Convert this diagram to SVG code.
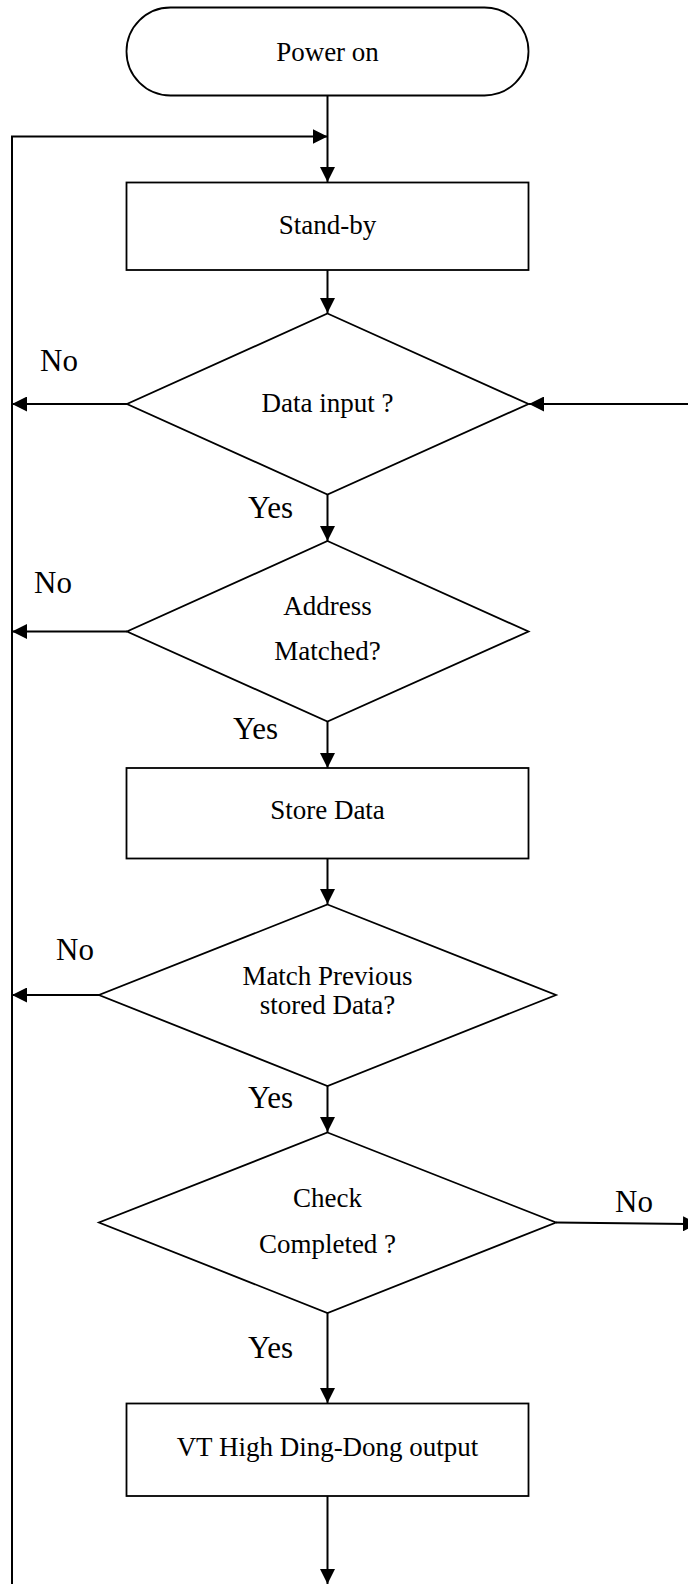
<svg xmlns="http://www.w3.org/2000/svg" width="688" height="1584" viewBox="0 0 688 1584">
<defs>
<marker id="arr" markerUnits="userSpaceOnUse" markerWidth="15" markerHeight="15" refX="15" refY="7.5" orient="auto" viewBox="0 0 15 15">
<path d="M0,0 L15,7.5 L0,15 z" fill="#000"/>
</marker>
<style>
.shape{fill:#fff;stroke:#000;stroke-width:1.8}
.conn{fill:none;stroke:#000;stroke-width:2;marker-end:url(#arr)}
.lbl{font-family:"Liberation Serif","Times New Roman",serif;font-size:27px;text-anchor:middle;fill:#000}
.yn{font-family:"Liberation Serif","Times New Roman",serif;font-size:31px;fill:#000}
</style>
</defs>
<rect width="688" height="1584" fill="#fff"/>
<g id="connectors">
<line class="conn" x1="327.5" y1="96" x2="327.5" y2="182"/>
<polyline class="conn" points="12,1584 12,136.5 327.5,136.5"/>
<line class="conn" x1="327.5" y1="270" x2="327.5" y2="313"/>
<line class="conn" x1="127" y1="404" x2="12" y2="404"/>
<line class="conn" x1="688" y1="404" x2="529" y2="404"/>
<line class="conn" x1="327.5" y1="494" x2="327.5" y2="541"/>
<line class="conn" x1="127" y1="631.5" x2="12" y2="631.5"/>
<line class="conn" x1="327.5" y1="721.5" x2="327.5" y2="768"/>
<line class="conn" x1="327.5" y1="859" x2="327.5" y2="904"/>
<line class="conn" x1="99" y1="995" x2="12" y2="995"/>
<line class="conn" x1="327.5" y1="1086" x2="327.5" y2="1132"/>
<line class="conn" x1="556" y1="1222.5" x2="698" y2="1224"/>
<line class="conn" x1="327.5" y1="1313" x2="327.5" y2="1403"/>
<line class="conn" x1="327.5" y1="1496" x2="327.5" y2="1584"/>
</g>
<g id="power-on">
<rect class="shape" x="126.5" y="7.5" width="402" height="88" rx="44" ry="44"/>
<text class="lbl" x="327.5" y="61">Power on</text>
</g>
<g id="stand-by">
<rect class="shape" x="126.5" y="182.5" width="402" height="87.5"/>
<text class="lbl" x="327.5" y="234">Stand-by</text>
</g>
<g id="data-input">
<polygon class="shape" points="327.5,313.5 528.5,404 327.5,494.5 127,404"/>
<text class="lbl" x="327.5" y="412">Data input ?</text>
<text class="yn" x="40" y="371">No</text>
<text class="yn" x="248" y="518">Yes</text>
</g>
<g id="address-matched">
<polygon class="shape" points="327.5,541 528.5,631.5 327.5,721.5 127,631.5"/>
<text class="lbl" x="327.5" y="615">Address</text>
<text class="lbl" x="327.5" y="660">Matched?</text>
<text class="yn" x="34" y="593">No</text>
<text class="yn" x="233" y="739">Yes</text>
</g>
<g id="store-data">
<rect class="shape" x="126.5" y="768" width="402" height="90.5"/>
<text class="lbl" x="327.5" y="819">Store Data</text>
</g>
<g id="match-previous">
<polygon class="shape" points="327.5,904.5 556,995 327.5,1086 99,995"/>
<text class="lbl" x="327.5" y="985">Match Previous</text>
<text class="lbl" x="327.5" y="1014">stored Data?</text>
<text class="yn" x="56" y="960">No</text>
<text class="yn" x="248" y="1108">Yes</text>
</g>
<g id="check-completed">
<polygon class="shape" points="327.5,1132.5 556,1222.5 327.5,1313 99,1222.5"/>
<text class="lbl" x="327.5" y="1207">Check</text>
<text class="lbl" x="327.5" y="1253">Completed ?</text>
<text class="yn" x="615" y="1212">No</text>
<text class="yn" x="248" y="1358">Yes</text>
</g>
<g id="vt-output">
<rect class="shape" x="126.5" y="1403.5" width="402" height="92.5"/>
<text class="lbl" x="327.5" y="1456">VT High Ding-Dong output</text>
</g>
</svg>
